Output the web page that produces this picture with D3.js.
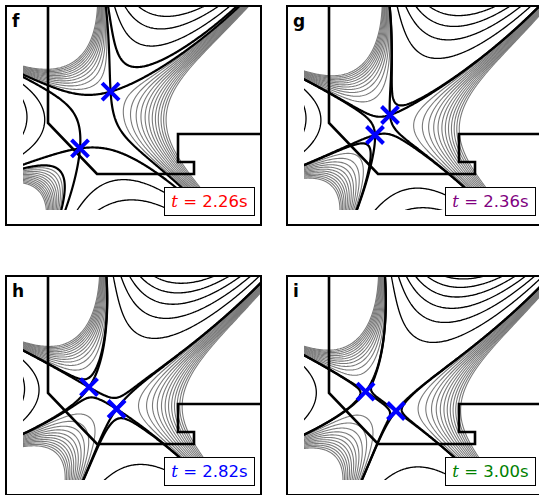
<!DOCTYPE html>
<html>
<head>
<meta charset="utf-8">
<script src="https://cdn.jsdelivr.net/npm/d3@7"></script>
<style>
  html, body { margin: 0; padding: 0; background: #fff; }
  svg { display: block; }
</style>
</head>
<body>
<svg id="fig" width="539" height="495"></svg>
<script>
// ---- data -------------------------------------------------------------
const panelIds   = ["f", "g", "h", "i"];
const times      = [2.26, 2.36, 2.82, 3.00];
const timeColors = ["#ff0000", "#800080", "#0000ff", "#008000"];

// X-point locations (R, Z in metres)
const xpt1R = [0.839, 0.835, 0.785, 0.774];
const xpt1Z = [-0.514, -0.5725, -0.578, -0.589];
const xpt2R = [0.7625, 0.7975, 0.854, 0.850];
const xpt2Z = [-0.656, -0.6225, -0.6325, -0.6375];

// local expansion of the poloidal flux about the divertor region
const expCentreR = 0.80;
const expCentreZ = -0.60;
const expScale   = 0.25;   // m
const hexPhase   = 34;     // degrees
const growthMag  = 0.5;    // strength of the field gradient across the region
const growthDir  = 160;    // degrees, direction of increasing field
const shear      = 0.22;   // vertical shear of the flux pattern

// vessel wall outline
const wallR = [0.6825, 0.6825, 0.805, 1.0475, 1.0475, 1.0075, 1.0075, 1.215];
const wallZ = [-0.300, -0.5925, -0.720, -0.720, -0.690, -0.690, -0.620, -0.620];

// flux levels relative to the outer separatrix
const greyOffsets  = [0.010, 0.020, 0.030, 0.040, 0.050, 0.060, 0.070, 0.080, 0.090, 0.100, 0.110, 0.120];
const blackOffsets = [-0.11, -0.22, -0.33, -0.44, -0.55, -0.66, -0.77, -0.88, -0.99, -1.10, -1.21, -1.32];

// plotted window
const rDomain = [0.62, 1.215];
const zDomain = [-0.30, -0.81];

// ---- layout ----------------------------------------------------------
const panelX = [0, 281, 0, 281];
const panelY = [0, 0, 270, 270];
const frame = { x: 6, y: 6, w: 255, h: 219 };
const plot  = { x0: 23, x1: 261, y0: 6, y1: 210 };

const svg = d3.select("#fig");

// complex helpers
const cmul = (a, b) => [a[0] * b[0] - a[1] * b[1], a[0] * b[1] + a[1] * b[0]];
const cadd = (a, b) => [a[0] + b[0], a[1] + b[1]];
const cscale = (a, s) => [a[0] * s, a[1] * s];
const cinv = a => { const d = a[0] * a[0] + a[1] * a[1]; return [a[0] / d, -a[1] / d]; };
const cexp = a => { const m = Math.exp(a[0]); return [m * Math.cos(a[1]), m * Math.sin(a[1])]; };
const polar = (m, deg) => [m * Math.cos(deg * Math.PI / 180), m * Math.sin(deg * Math.PI / 180)];

// flux = Re F(w) with F'(w) = k (w - w1)(w - w2) exp(c w), evaluated on
// sheared coordinates: the only saddles are the two X-points
function makeFlux(z1, z2) {
  const toW = (R, Z) => {
    const u = (R - expCentreR) / expScale, v = (Z - expCentreZ) / expScale;
    return [u, v - shear * u];
  };
  const w1 = toW(z1[0], z1[1]), w2 = toW(z2[0], z2[1]);
  const b = cscale(cadd(w1, w2), -1), d = cmul(w1, w2);
  const k = polar(1, hexPhase);
  const c = polar(growthMag, -growthDir);
  const ic = cinv(c), ic2 = cmul(ic, ic), ic3 = cmul(ic2, ic);
  const F = w => {
    const P = cadd(cadd(cmul(w, w), cmul(b, w)), d);
    const dP = cadd(cscale(w, 2), b);
    const Q = cadd(cadd(cmul(P, ic), cscale(cmul(dP, ic2), -1)), cscale(ic3, 2));
    return cmul(k, cmul(cexp(cmul(c, w)), Q))[0];
  };
  return (R, Z) => F(toW(R, Z));
}

panelIds.forEach((id, i) => {
  const g = svg.append("g").attr("transform", `translate(${panelX[i]},${panelY[i]})`);
  const xS = d3.scaleLinear().domain(rDomain).range([plot.x0, plot.x1]);
  const yS = d3.scaleLinear().domain(zDomain).range([plot.y0, plot.y1]);

  const z1 = [xpt1R[i], xpt1Z[i]], z2 = [xpt2R[i], xpt2Z[i]];
  const psi = makeFlux(z1, z2);

  // sample the flux on a pixel grid a little larger than the window
  const gx0 = plot.x0 - 3, gy0 = plot.y0 - 3;
  const nx = Math.round(plot.x1 - plot.x0) + 7, ny = Math.round(plot.y1 - plot.y0) + 7;
  const values = new Float64Array(nx * ny);
  for (let j = 0; j < ny; j++) {
    const Z = yS.invert(gy0 + j);
    for (let k = 0; k < nx; k++) values[j * nx + k] = psi(xS.invert(gx0 + k), Z);
  }
  const gxS = d3.scaleLinear().domain([0.5, nx - 0.5]).range([gx0, gx0 + nx - 1]);
  const gyS = d3.scaleLinear().domain([0.5, ny - 0.5]).range([gy0, gy0 + ny - 1]);
  const path = d3.geoPath(d3.geoTransform({
    point(x, y) { this.stream.point(gxS(x), gyS(y)); }
  }));

  const p1 = psi(z1[0], z1[1]), p2 = psi(z2[0], z2[1]);
  const pTop = Math.max(p1, p2), pLow = Math.min(p1, p2);
  const contours = d3.contours().size([nx, ny]);

  const clipId = "clip-" + id;
  g.append("clipPath").attr("id", clipId).append("rect")
    .attr("x", plot.x0).attr("y", plot.y0)
    .attr("width", plot.x1 - plot.x0).attr("height", plot.y1 - plot.y0);
  const cg = g.append("g").attr("clip-path", `url(#${clipId})`);

  const draw = (levels, stroke, width) => {
    cg.append("g").selectAll("path")
      .data(contours.thresholds(levels)(values))
      .join("path")
      .attr("d", path)
      .attr("fill", "none")
      .attr("stroke", stroke)
      .attr("stroke-width", width)
      .attr("stroke-linejoin", "round");
  };
  const blackLevels = blackOffsets.map(o => pTop + o)
    .filter(v => Math.abs(v - pLow) > 0.035);
  draw(greyOffsets.map(o => pTop + o), "#7a7a7a", 1.1);
  draw(blackLevels, "#000", 1.3);
  draw([p1, p2], "#000", 2.2);

  // wall
  g.append("path")
    .attr("d", d3.line().x(d => xS(d[0])).y(d => yS(d[1]))(wallR.map((r, k) => [r, wallZ[k]])))
    .attr("fill", "none").attr("stroke", "#000").attr("stroke-width", 2.6)
    .attr("stroke-linejoin", "miter");

  // X-point markers
  const xs = 8.5;
  [z1, z2].forEach(z => {
    const cx = xS(z[0]), cy = yS(z[1]);
    g.append("path")
      .attr("d", `M${cx - xs},${cy - xs}L${cx + xs},${cy + xs}M${cx - xs},${cy + xs}L${cx + xs},${cy - xs}`)
      .attr("stroke", "#0000ff").attr("stroke-width", 4).attr("fill", "none");
  });

  // frame
  g.append("rect")
    .attr("x", frame.x).attr("y", frame.y).attr("width", frame.w).attr("height", frame.h)
    .attr("fill", "none").attr("stroke", "#000").attr("stroke-width", 2);

  // time stamp
  g.append("rect")
    .attr("x", 164.5).attr("y", 187.5).attr("width", 90).attr("height", 28)
    .attr("fill", "#fff").attr("stroke", "#000").attr("stroke-width", 1);
  const tt = g.append("text")
    .attr("x", 209.5).attr("y", 207)
    .attr("text-anchor", "middle")
    .attr("font-family", "DejaVu Sans").attr("font-size", 16.5)
    .attr("fill", timeColors[i]);
  tt.append("tspan").attr("font-family", "DejaVu Serif").attr("font-style", "italic").text("t");
  tt.append("tspan").text(" = " + d3.format(".2f")(times[i]) + "s");

  // panel letter
  g.append("text")
    .attr("x", 12).attr("y", 27)
    .attr("font-family", "DejaVu Sans").attr("font-weight", "bold").attr("font-size", 17)
    .text(id);
});
</script>
</body>
</html>
